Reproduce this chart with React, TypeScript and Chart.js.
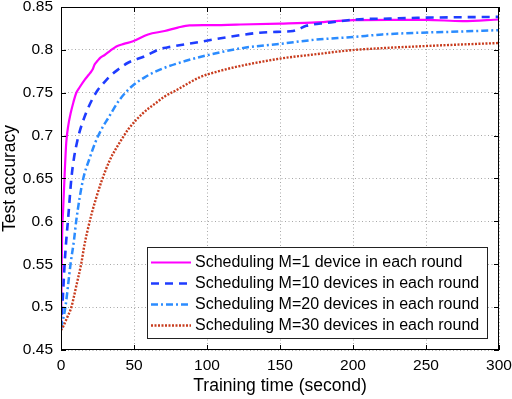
import React, { useEffect, useRef } from 'react';
import { Chart, registerables } from 'chart.js';

Chart.register(...registerables);

// ---------- data ----------
const seriesLabels = [
  'Scheduling M=1 device in each round',
  'Scheduling M=10 devices in each round',
  'Scheduling M=20 devices in each round',
  'Scheduling M=30 devices in each round',
];

const timeM1 = [0, 0.3, 0.7, 1.5, 2.5, 3.6, 5, 6.6, 8.5, 10.5, 13, 16.2, 19, 20.8, 21.9, 23, 24.9, 27, 29.9, 33, 37.9, 43, 49.3, 59.6, 71, 80, 88, 100, 120, 150, 175, 200, 225, 250, 275, 300];
const accM1 = [0.475, 0.52, 0.578, 0.615, 0.655, 0.692, 0.712, 0.726, 0.739, 0.75, 0.757, 0.765, 0.771, 0.775, 0.778, 0.783, 0.787, 0.791, 0.794, 0.798, 0.804, 0.807, 0.81, 0.818, 0.822, 0.826, 0.8285, 0.8288, 0.8295, 0.8307, 0.832, 0.8346, 0.835, 0.835, 0.8335, 0.8354];

const timeM10 = [0, 0.9, 2.5, 3.6, 4.8, 7.1, 9, 11.2, 12.8, 17.3, 21, 25.3, 29, 33.3, 39, 45.9, 57.3, 67.8, 73.3, 90.6, 113.5, 136, 147.7, 159, 162, 168, 182, 202, 225, 244, 270, 300];
const accM10 = [0.475, 0.5, 0.551, 0.578, 0.6015, 0.65, 0.675, 0.694, 0.705, 0.727, 0.741, 0.7535, 0.761, 0.769, 0.777, 0.785, 0.7925, 0.801, 0.803, 0.808, 0.8147, 0.82, 0.821, 0.822, 0.8235, 0.828, 0.8315, 0.8354, 0.8365, 0.8374, 0.838, 0.8385];

const timeM20 = [0, 0.7, 3, 6.6, 8.9, 10.5, 15, 19.9, 23.5, 27.6, 32.2, 40.2, 48.2, 57.3, 67.8, 85, 99.8, 124.9, 150, 175, 200, 220, 245, 266, 300];
const accM20 = [0.475, 0.48, 0.5, 0.551, 0.578, 0.6015, 0.648, 0.675, 0.692, 0.707, 0.72, 0.742, 0.757, 0.768, 0.777, 0.787, 0.7936, 0.8023, 0.807, 0.812, 0.815, 0.818, 0.82, 0.821, 0.823];

const timeM30 = [0, 1.4, 4, 7.1, 10.5, 13.9, 16, 18, 21, 24.4, 27.6, 33.6, 41.3, 45.9, 56, 65, 71, 79, 95, 110, 124.9, 150, 175, 198, 220, 243.6, 270, 300];
const accM30 = [0.473, 0.477, 0.487, 0.5, 0.525, 0.551, 0.572, 0.588, 0.609, 0.629, 0.646, 0.672, 0.695, 0.707, 0.726, 0.738, 0.7457, 0.753, 0.768, 0.776, 0.782, 0.7898, 0.795, 0.7995, 0.802, 0.804, 0.806, 0.808];

const xTickValues = [0, 50, 100, 150, 200, 250, 300];
const yTickValues = [0.45, 0.5, 0.55, 0.6, 0.65, 0.7, 0.75, 0.8, 0.85];

const xTitle = 'Training time (second)';
const yTitle = 'Test accuracy';

// ---------- styles ----------
const FONT = '"Liberation Sans", Arial, Helvetica, sans-serif';
const colors = ['#ff00ff', '#1f3cff', '#2b8cff', '#c83c1e'];
const dashes: number[][] = [[], [8, 6], [7, 3, 2, 3], [2, 1.5]];
const widths = [2.2, 2.6, 2.5, 2.4];

const toPoints = (ts: number[], vs: number[]) => ts.map((t, i) => ({ x: t, y: vs[i] }));

const framePlugin = {
  id: 'matlabFrame',
  afterDatasetsDraw(chart: any) {
    const { ctx, chartArea, scales } = chart;
    const { left, right, top, bottom } = chartArea;
    const xs = scales.x;
    const ys = scales.y;
    ctx.save();
    ctx.setLineDash([]);
    ctx.strokeStyle = '#000';
    ctx.lineWidth = 1;
    const tl = 5;
    ctx.beginPath();
    xs.ticks.forEach((t: any) => {
      const px = Math.round(xs.getPixelForValue(t.value)) + 0.5;
      ctx.moveTo(px, bottom);
      ctx.lineTo(px, bottom - tl);
      ctx.moveTo(px, top);
      ctx.lineTo(px, top + tl);
    });
    ys.ticks.forEach((t: any) => {
      const py = Math.round(ys.getPixelForValue(t.value)) + 0.5;
      ctx.moveTo(left, py);
      ctx.lineTo(left + tl, py);
      ctx.moveTo(right, py);
      ctx.lineTo(right - tl, py);
    });
    ctx.stroke();
    ctx.strokeRect(left + 0.5, top + 0.5, right - left - 1, bottom - top - 1);
    ctx.restore();
  },
  afterDraw(chart: any) {
    const { ctx, chartArea } = chart;
    const { right, bottom } = chartArea;
    const boxW = 340;
    const boxH = 91;
    const bx = right - 12 - boxW;
    const by = bottom - 12 - boxH;
    ctx.save();
    ctx.fillStyle = '#fff';
    ctx.fillRect(bx, by, boxW, boxH);
    ctx.strokeStyle = '#222';
    ctx.lineWidth = 1;
    ctx.setLineDash([]);
    ctx.strokeRect(bx + 0.5, by + 0.5, boxW, boxH);
    ctx.font = `16px ${FONT}`;
    ctx.textBaseline = 'middle';
    ctx.textAlign = 'left';
    chart.data.datasets.forEach((ds: any, i: number) => {
      const cy = by + 15.5 + i * 21;
      ctx.beginPath();
      ctx.strokeStyle = ds.borderColor;
      ctx.lineWidth = ds.borderWidth;
      ctx.setLineDash(ds.borderDash || []);
      ctx.moveTo(bx + 4, cy);
      ctx.lineTo(bx + 44, cy);
      ctx.stroke();
      ctx.setLineDash([]);
      ctx.fillStyle = '#000';
      ctx.fillText(ds.label, bx + 48, cy + 0.5);
    });
    ctx.restore();
  },
};

export default function App() {
  const canvasRef = useRef<HTMLCanvasElement | null>(null);

  useEffect(() => {
    if (!canvasRef.current) return;
    const seriesT = [timeM1, timeM10, timeM20, timeM30];
    const seriesV = [accM1, accM10, accM20, accM30];
    const chart = new Chart(canvasRef.current, {
      type: 'line',
      data: {
        datasets: seriesLabels.map((label, i) => ({
          label,
          data: toPoints(seriesT[i], seriesV[i]),
          borderColor: colors[i],
          backgroundColor: colors[i],
          borderWidth: widths[i],
          borderDash: dashes[i],
          borderCapStyle: 'butt',
          pointRadius: 0,
          fill: false,
          cubicInterpolationMode: 'monotone',
          order: 4 - i,
        })),
      },
      options: {
        responsive: false,
        animation: false,
        events: [],
        layout: { padding: { left: 0, right: 13, top: 7, bottom: 0 } },
        plugins: {
          legend: { display: false },
          tooltip: { enabled: false },
          title: { display: false },
        },
        scales: {
          x: {
            type: 'linear',
            min: 0,
            max: 300,
            afterFit: (s: any) => { s.height = 49; s.paddingLeft = 0; s.paddingRight = 0; },
            afterBuildTicks: (s: any) => { s.ticks = xTickValues.map((v) => ({ value: v })); },
            ticks: {
              color: '#000',
              font: { family: FONT, size: 15.5 },
              padding: 6,
              maxRotation: 0,
              autoSkip: false,
              callback: (v: any) => String(v),
            },
            grid: { color: '#a8a8a8', lineWidth: 1, drawTicks: false },
            border: { display: false, dash: [1, 2.5] },
            title: {
              display: true,
              text: xTitle,
              color: '#000',
              font: { family: FONT, size: 17.5 },
              padding: { top: 0, bottom: 2 },
            },
          },
          y: {
            type: 'linear',
            min: 0.45,
            max: 0.85,
            afterFit: (s: any) => { s.width = 61; s.paddingTop = 0; s.paddingBottom = 0; },
            afterBuildTicks: (s: any) => { s.ticks = yTickValues.map((v) => ({ value: v })); },
            ticks: {
              color: '#000',
              font: { family: FONT, size: 15.5 },
              padding: 8,
              autoSkip: false,
              callback: (v: any) => String(parseFloat(Number(v).toFixed(2))),
            },
            grid: { color: '#a8a8a8', lineWidth: 1, drawTicks: false },
            border: { display: false, dash: [1, 2.5] },
            title: {
              display: true,
              text: yTitle,
              color: '#000',
              font: { family: FONT, size: 17.5 },
              padding: { top: 0, bottom: 0 },
            },
          },
        },
      },
      plugins: [framePlugin],
    } as any);
    return () => chart.destroy();
  }, []);

  return (
    <div style={{ position: 'absolute', left: 0, top: 0, width: 512, height: 399, background: '#fff' }}>
      <canvas ref={canvasRef} width={512} height={399} style={{ display: 'block' }} />
    </div>
  );
}
